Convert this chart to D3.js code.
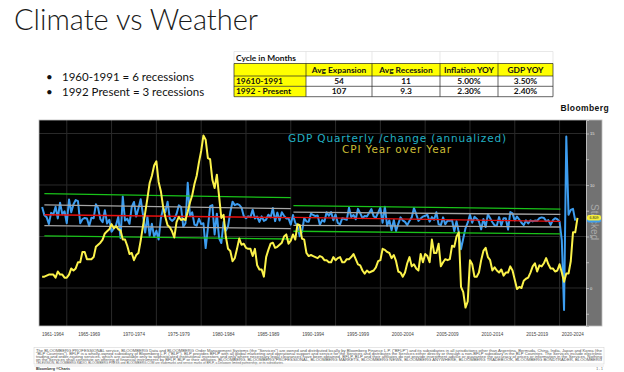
<!DOCTYPE html>
<html>
<head>
<meta charset="utf-8">
<script src="https://cdn.jsdelivr.net/npm/d3@7"></script>
<style>
  body { margin: 0; background: #fff; }
  svg { display: block; }
</style>
</head>
<body>
<svg id="slide"></svg>
<script>
/*
*  DATA
*/
const titleText = 'Climate vs Weather'
const bullets = ['1960-1991 = 6 recessions', '1992 Present = 3 recessions']

const tableCaption = 'Cycle in Months'
const tableHead = ['', 'Avg Expansion', 'Avg Recession', 'Inflation YOY', 'GDP YOY']
const tableRows = [
  ['19610-1991', '54', '11', '5.00%', '3.50%'],
  ['1992 - Present', '107', '9.3', '2.30%', '2.40%']
]

const periodLabels = ['1961-1964', '1965-1969', '1970-1974', '1975-1979', '1980-1984', '1985-1989',
  '1990-1994', '1995-1999', '2000-2004', '2005-2009', '2010-2014', '2015-2019', '2020-2024']
const periodStarts = [1961, 1965, 1970, 1975, 1980, 1985, 1990, 1995, 2000, 2005, 2010, 2015, 2020]

// GDP quarterly % change annualized, from 1962 Q1
const gdpStart = 1962
const gdpQoq = [
  7.4, 4.3, 3.6, 1.0,   5.2, 4.6, 7.5, 3.1,   9.0, 4.7, 5.8, 1.3,   10.2, 5.4, 8.4, 10.0,
  9.6, 1.3, 2.8, 3.3,   3.1, 0.3, 3.4, 3.2,   8.4, 7.0, 2.8, 1.7,   6.2, 1.2, 2.6, -1.9,
  -0.6, 0.6, 3.7, -4.2, 11.3, 2.3, 3.0, 1.1,  7.4, 9.3, 3.8, 6.9,   10.3, 4.6, -2.2, 3.8,
  -3.4, 1.1, -3.8, -1.5, -4.8, 3.1, 6.8, 5.5, 9.4, 3.0, 2.2, 2.9,   4.8, 8.0, 7.4, 0.0,
  1.3, 16.5, 4.0, 5.4,  0.8, 0.4, 3.0, 1.0,   1.3, -8.0, -0.5, 7.7, 8.1, -2.9, 4.9, -4.3,
  -6.1, 1.8, -1.5, 0.2, 5.4, 9.4, 8.1, 8.5,   8.2, 7.2, 4.0, 3.2,   3.9, 3.6, 6.4, 3.1,
  3.8, 1.8, 3.9, 2.2,   2.7, 4.5, 3.5, 7.0,   2.1, 5.3, 2.3, 5.4,   4.1, 3.1, 3.1, 0.8,
  4.4, 1.5, 0.3, -3.6,  -1.9, 3.2, 2.0, 1.9,  4.9, 4.4, 4.0, 4.2,   0.7, 2.5, 1.9, 5.4,
  4.1, 5.5, 2.4, 4.6,   1.4, 0.9, 3.2, 2.9,   2.6, 7.1, 3.6, 4.4,   2.8, 6.7, 5.1, 3.2,
  4.0, 3.8, 5.2, 6.6,   3.9, 3.4, 5.3, 7.1,   1.5, 7.5, 0.4, 2.4,   -1.3, 2.5, -1.6, 1.1,
  3.5, 2.4, 1.8, 0.6,   2.2, 3.5, 7.0, 4.7,   2.2, 3.1, 3.8, 4.1,   4.5, 1.9, 3.6, 2.6,
  5.4, 0.9, 0.6, 3.5,   0.9, 2.3, 2.2, 2.5,   -1.7, 2.1, -2.1, -8.4, -4.4, -0.6, 1.5, 4.5,
  1.5, 3.7, 3.0, 2.0,   -1.0, 2.9, -0.1, 4.7, 3.2, 1.7, 0.5, 0.5,   3.6, 0.5, 3.2, 3.2,
  -1.1, 5.5, 5.0, 2.3,  3.8, 2.7, 1.5, 0.6,   2.4, 1.2, 2.4, 2.0,   2.3, 2.2, 3.2, 3.5,
  3.3, 2.1, 2.5, 0.7,   2.4, 3.2, 2.8, 1.9,   -5.1, -31.2, 33.8, 4.5, 6.3, 6.7, 2.3
]

// CPI year over year %, quarter-end readings from 1962 Q1
const cpiStart = 1962
const cpiYoy = [
  1.1, 1.1, 1.2, 1.3,   1.3, 1.3, 1.0, 1.6,   1.3, 1.3, 1.0, 1.0,   1.3, 1.9, 1.7, 1.9,
  2.5, 2.5, 3.5, 3.5,   2.8, 2.8, 2.8, 3.0,   4.0, 4.2, 4.4, 4.7,   5.3, 5.5, 5.7, 6.2,
  5.8, 6.0, 5.7, 5.6,   4.7, 4.7, 4.1, 3.3,   3.4, 2.7, 3.2, 3.4,   4.6, 6.0, 7.3, 8.7,
  10.2, 10.9, 11.9, 12.3, 10.3, 9.4, 7.9, 6.9, 6.1, 5.9, 5.5, 4.9,  6.4, 6.9, 6.6, 6.7,
  6.6, 7.4, 8.3, 9.0,   10.1, 10.9, 12.2, 13.3, 14.8, 14.4, 12.6, 12.5, 10.5, 9.7, 11.0, 8.9,
  6.8, 7.1, 5.0, 3.8,   3.6, 2.6, 2.9, 3.8,   4.8, 4.2, 4.3, 3.9,   3.8, 3.8, 3.1, 3.8,
  2.2, 1.8, 1.8, 1.1,   3.0, 3.7, 4.3, 4.4,   3.9, 4.0, 4.2, 4.4,   5.0, 5.2, 4.3, 4.6,
  5.2, 4.7, 6.2, 6.1,   4.8, 4.7, 3.4, 3.1,   3.2, 3.1, 3.0, 2.9,   3.1, 3.0, 2.7, 2.7,
  2.5, 2.5, 3.0, 2.7,   2.9, 3.0, 2.5, 2.5,   2.8, 2.8, 3.0, 3.3,   2.8, 2.3, 2.2, 1.7,
  1.4, 1.7, 1.5, 1.6,   1.7, 2.0, 2.6, 2.7,   3.8, 3.7, 3.5, 3.4,   2.9, 3.2, 2.6, 1.6,
  1.5, 1.1, 1.5, 2.4,   3.0, 2.1, 2.3, 1.9,   1.7, 3.3, 2.5, 3.3,   3.1, 2.5, 4.7, 3.4,
  3.4, 4.3, 2.1, 2.5,   2.8, 2.7, 2.8, 4.1,   4.0, 5.0, 5.4, 0.1,   -0.4, -1.9, -1.3, 2.7,
  2.3, 1.1, 1.1, 1.5,   2.7, 3.6, 3.9, 3.0,   2.7, 1.7, 2.0, 1.7,   1.5, 1.8, 1.2, 1.5,
  1.5, 2.1, 1.7, 0.8,   -0.1, 0.1, 0.0, 0.7,  0.9, 1.0, 1.5, 2.1,   2.4, 1.6, 2.2, 2.1,
  2.4, 2.9, 2.3, 1.9,   1.9, 1.6, 1.7, 2.3,   1.5, 0.6, 1.4, 1.4,   2.6, 5.4, 5.4, 6.8
]
const cpiLast = '6.809'

// GDP channel lines per regime: [start, end] in years and GDP % values
const channelSpans = [[1962.5, 1990.0], [1990.3, 2020.1]]
const channelUpper2 = [[12.4, 10.9], [7.9, 6.6]]
const channelUpper1 = [[8.2, 6.8], [5.5, 4.6]]
const channelMean = [[4.5, 3.4], [3.5, 2.0]]
const channelLower1 = [[0.4, -0.7], [0.5, -0.1]]
const channelLower2 = [[-3.4, -4.6], [-1.7, -2.7]]

const cpiTicks = [-2.5, 0, 2.5, 5, 7.5, 10, 12.5, 15]

/*
*  RUN
*/
let width = 624,
    height = 372

let svg = d3.select('#slide').attr('width', width).attr('height', height)
svg.append('rect').attr('width', width).attr('height', height).attr('fill', '#fff')

drawHeader()
drawTable()
drawChart()
drawFooter()

/*
*  HELPERS
*/
function drawHeader(){
  svg.append('text').text(titleText)
    .attr('x', 14).attr('y', 30)
    .attr('font-family', 'Lato, sans-serif').attr('font-weight', 300)
    .attr('font-size', 29).attr('fill', '#1a1a1a')

  let b = svg.append('g').attr('font-family', 'Lato, sans-serif').attr('font-size', 11.5).attr('fill', '#111')
  bullets.forEach((t, i) => {
    b.append('text').text('\u2022').attr('x', 46).attr('y', 81 + i * 15)
    b.append('text').text(t).attr('x', 62).attr('y', 81 + i * 15)
  })
}

function drawTable(){
  let cols = [234, 306, 372, 440, 498, 553]
  let rowsY = [51.5, 63.5, 76, 86.3, 96.7]
  let g = svg.append('g').attr('font-family', 'Lato, sans-serif').attr('font-weight', 700).attr('font-size', 8.4)

  // excel gridlines on caption row
  cols.forEach(x => g.append('line').attr('x1', x).attr('x2', x).attr('y1', rowsY[0]).attr('y2', rowsY[1]).attr('stroke', '#d9d9d9').attr('stroke-width', 0.6))
  g.append('line').attr('x1', cols[0]).attr('x2', cols[5]).attr('y1', rowsY[0]).attr('y2', rowsY[0]).attr('stroke', '#d9d9d9').attr('stroke-width', 0.6)
  g.append('text').text(tableCaption).attr('x', cols[0] + 2).attr('y', rowsY[1] - 3).attr('fill', '#111')

  // header row
  g.append('rect').attr('x', cols[0]).attr('y', rowsY[1]).attr('width', cols[5] - cols[0]).attr('height', rowsY[2] - rowsY[1]).attr('fill', '#ffff00')
  tableHead.forEach((t, i) => {
    g.append('text').text(t).attr('x', (cols[i] + cols[i + 1]) / 2).attr('y', rowsY[2] - 3.2)
      .attr('text-anchor', 'middle').attr('fill', '#111')
  })
  tableRows.forEach((row, r) => {
    let y0 = rowsY[r + 2], y1 = rowsY[r + 3]
    g.append('rect').attr('x', cols[0]).attr('y', y0).attr('width', cols[1] - cols[0]).attr('height', y1 - y0).attr('fill', '#ffff00')
    row.forEach((t, i) => {
      g.append('text').text(t)
        .attr('x', i === 0 ? cols[0] + 2 : (cols[i] + cols[i + 1]) / 2)
        .attr('y', y1 - 2.6)
        .attr('text-anchor', i === 0 ? 'start' : 'middle').attr('fill', '#111')
    })
  })
  // cell borders
  rowsY.slice(1).forEach(y => g.append('line').attr('x1', cols[0]).attr('x2', cols[5]).attr('y1', y).attr('y2', y).attr('stroke', '#222').attr('stroke-width', 0.7))
  cols.forEach(x => g.append('line').attr('x1', x).attr('x2', x).attr('y1', rowsY[1]).attr('y2', rowsY[4]).attr('stroke', '#222').attr('stroke-width', 0.7))
}

function drawChart(){
  let left = 39, right = 586, top = 120, bottom = 326, stripW = 16

  let x = d3.scaleLinear().domain([1961.9, 2022.95]).range([left, right])
  let yCpi = d3.scaleLinear().domain([-3.69, 16.31]).range([bottom, top])
  let yGdp = d3.scaleLinear().domain([-37.2, 40.0]).range([bottom, top])

  svg.append('text').text('Bloomberg').attr('x', 609).attr('y', 111).attr('text-anchor', 'end')
    .attr('font-family', 'Liberation Sans, Arial, sans-serif').attr('font-weight', 700).attr('font-size', 8.5)
    .attr('letter-spacing', 0.4).attr('fill', '#111')

  svg.append('rect').attr('x', left).attr('y', top).attr('width', right - left).attr('height', bottom - top).attr('fill', '#000')
  svg.append('rect').attr('x', right).attr('y', top).attr('width', stripW).attr('height', bottom - top).attr('fill', '#727272')

  let grid = svg.append('g').attr('stroke', '#2a2a2a').attr('stroke-width', 1)
  ;[0, 5, 10, 15].forEach(v => grid.append('line').attr('x1', left).attr('x2', right).attr('y1', yCpi(v)).attr('y2', yCpi(v)))
  periodStarts.slice(1).forEach(v => grid.append('line').attr('x1', x(v)).attr('x2', x(v)).attr('y1', top).attr('y2', bottom))

  // right axis
  let axis = svg.append('g').attr('transform', `translate(${right},0)`)
    .call(d3.axisRight(yCpi).tickValues(cpiTicks).tickSize(3)
      .tickFormat(d => d % 5 === 0 ? d : ''))
  axis.select('.domain').attr('stroke', '#bbb')
  axis.selectAll('.tick line').attr('stroke', '#ddd').attr('stroke-width', 0.6)
  axis.selectAll('.tick text').attr('fill', '#e6e6e6').attr('font-size', 4).attr('x', 4)
    .attr('font-family', 'Liberation Sans, Arial, sans-serif')

  svg.append('text').text('Stacked')
    .attr('transform', `translate(${right + 5},${204}) rotate(90)`)
    .attr('font-family', 'Liberation Sans, Arial, sans-serif').attr('font-size', 10).attr('fill', '#a9a9a9')

  // series
  let gdpPts = gdpQoq.map((v, i) => [gdpStart + (i + 1) * 0.25, v])
  let cpiPts = cpiYoy.map((v, i) => [cpiStart + (i + 1) * 0.25, v])

  svg.append('path').datum(gdpPts)
    .attr('d', d3.line().x(d => x(d[0])).y(d => yGdp(d[1])))
    .attr('fill', 'none').attr('stroke', '#3d9df0').attr('stroke-width', 2).attr('stroke-linejoin', 'round')

  let chan = svg.append('g').attr('stroke-width', 1.3)
  let bands = [[channelUpper2, '#19c319'], [channelUpper1, '#a6a6a6'], [channelMean, '#e8100f'],
    [channelLower1, '#a6a6a6'], [channelLower2, '#19c319']]
  bands.forEach(([vals, col]) => {
    vals.forEach((v, i) => {
      chan.append('line')
        .attr('x1', x(channelSpans[i][0])).attr('x2', x(channelSpans[i][1]))
        .attr('y1', yGdp(v[0])).attr('y2', yGdp(v[1]))
        .attr('stroke', col)
    })
  })

  svg.append('path').datum(cpiPts)
    .attr('d', d3.line().x(d => x(d[0])).y(d => yCpi(d[1])))
    .attr('fill', 'none').attr('stroke', '#fbf24a').attr('stroke-width', 2).attr('stroke-linejoin', 'round')

  // last value tags
  let lastY = yCpi(cpiYoy[cpiYoy.length - 1])
  svg.append('rect').attr('x', right + 1).attr('y', lastY - 1).attr('width', 14).attr('height', 5.5).attr('rx', 2).attr('fill', '#3d9df0')
  svg.append('rect').attr('x', right + 1).attr('y', lastY - 3).attr('width', 14).attr('height', 5.5).attr('rx', 2).attr('fill', '#f6ee3c')
  svg.append('text').text(cpiLast).attr('x', right + 8).attr('y', lastY + 1.2).attr('text-anchor', 'middle')
    .attr('font-family', 'Liberation Sans, Arial, sans-serif').attr('font-size', 3.6).attr('fill', '#222')

  // legend
  let leg = svg.append('g').attr('font-family', 'DejaVu Sans, sans-serif').attr('font-size', 10.5)
    .attr('text-anchor', 'middle').attr('letter-spacing', 0.85)
  leg.append('text').text('GDP Quarterly /change (annualized)').attr('x', 397.5).attr('y', 141.5).attr('fill', '#22b0c4')
  leg.append('text').text('CPI Year over Year').attr('x', 397).attr('y', 152.5).attr('fill', '#ccbd35')

  svg.append('rect').attr('x', left).attr('y', top).attr('width', right + stripW - left).attr('height', bottom - top)
    .attr('fill', 'none').attr('stroke', '#bdbdbd').attr('stroke-width', 0.8)

  // period labels
  let lab = svg.append('g').attr('font-family', 'Liberation Sans, Arial, sans-serif').attr('font-size', 4.6).attr('fill', '#444')
  periodLabels.forEach((t, i) => {
    let a = Math.max(x(periodStarts[i]), left)
    let b = i < periodStarts.length - 1 ? x(periodStarts[i + 1]) : right
    lab.append('text').text(t).attr('x', (a + b) / 2).attr('y', 336).attr('text-anchor', 'middle')
  })
}

function drawFooter(){
  let lines = [
    'The BLOOMBERG PROFESSIONAL service, BLOOMBERG Data and BLOOMBERG Order Management Systems (the "Services") are owned and distributed locally by Bloomberg Finance L.P. ("BFLP") and its subsidiaries in all jurisdictions other than Argentina, Bermuda, China, India, Japan and Korea (the',
    '"BLP Countries"). BFLP is a wholly-owned subsidiary of Bloomberg L.P. ("BLP"). BLP provides BFLP with all global marketing and operational support and service for the Services and distributes the Services either directly or through a non-BFLP subsidiary in the BLP Countries. The Services include electronic',
    'trading and order-routing services, which are available only to sophisticated institutional investors and only where necessary legal clearances have been obtained. BFLP, BLP and their affiliates do not provide investment advice or guarantee the accuracy of prices or information in the Services. Nothing',
    'on the Services shall constitute an offering of financial instruments by BFLP, BLP or their affiliates. BLOOMBERG, BLOOMBERG PROFESSIONAL, BLOOMBERG MARKETS, BLOOMBERG NEWS, BLOOMBERG ANYWHERE, BLOOMBERG TRADEBOOK, BLOOMBERG BONDTRADER, BLOOMBERG',
    'TELEVISION, BLOOMBERG RADIO, BLOOMBERG PRESS and BLOOMBERG.COM are trademarks and service marks of BFLP, a Delaware limited partnership, or its subsidiaries.'
  ]
  let g = svg.append('g').attr('font-family', 'Liberation Sans, Arial, sans-serif').attr('font-size', 3.1).attr('fill', '#555')
  svg.append('rect').attr('x', 34).attr('y', 347.5).attr('width', 570).attr('height', 16.5).attr('fill', 'none').attr('stroke', '#d6d6d6').attr('stroke-width', 0.6)
  lines.forEach((t, i) => {
    let el = g.append('text').text(t).attr('x', 36).attr('y', 351.5 + i * 3.1)
    if (i < lines.length - 1) el.attr('textLength', 566).attr('lengthAdjust', 'spacingAndGlyphs')
  })
  svg.append('line').attr('x1', 34).attr('x2', 604).attr('y1', 366).attr('y2', 366).attr('stroke', '#ccc').attr('stroke-width', 0.5)
  svg.append('text').text('Bloomberg \u00aeCharts').attr('x', 36).attr('y', 370)
    .attr('font-family', 'Liberation Sans, Arial, sans-serif').attr('font-size', 3.6).attr('font-weight', 700).attr('fill', '#333')
  svg.append('text').text('1 - 1').attr('x', 603).attr('y', 370).attr('text-anchor', 'end')
    .attr('font-family', 'Liberation Sans, Arial, sans-serif').attr('font-size', 3.4).attr('font-weight', 400).attr('fill', '#555')
}
</script>
</body>
</html>
